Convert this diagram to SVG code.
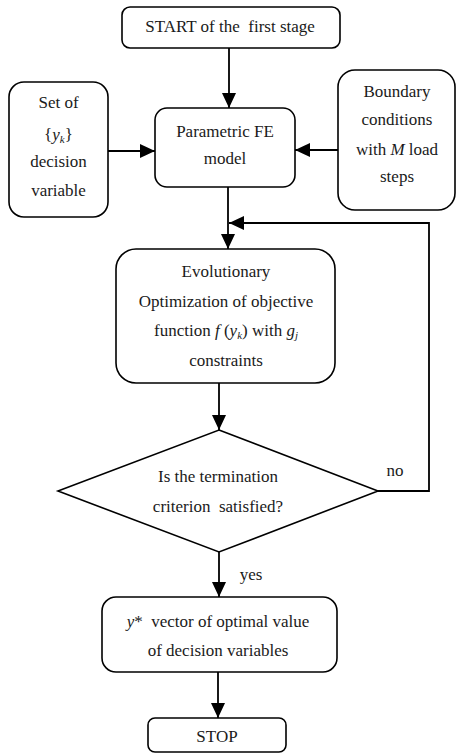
<svg xmlns="http://www.w3.org/2000/svg" width="456" height="754" viewBox="0 0 456 754">
<style>
.box{fill:#fff;stroke:#000;stroke-width:1.6}
.t{font-family:'Liberation Serif','DejaVu Serif Condensed','DejaVu Serif',serif;font-size:17px;fill:#1a1a1a;text-anchor:middle}
.i{font-style:italic}
.sub{font-size:11px;font-style:italic}
.c{fill:none;stroke:#000;stroke-width:1.8}
</style>
<defs>
<marker id="ah" markerUnits="userSpaceOnUse" markerWidth="16" markerHeight="14" refX="15" refY="7" orient="auto">
<path d="M0,0 L15,7 L0,14 z" fill="#000"/>
</marker>
</defs>
<rect width="456" height="754" fill="#fff"/>
<g id="connectors">
<path class="c" d="M229,48 V108" marker-end="url(#ah)"/>
<path class="c" d="M108,151 H155" marker-end="url(#ah)"/>
<path class="c" d="M338,150 H295" marker-end="url(#ah)"/>
<path class="c" d="M228,187 V249" marker-end="url(#ah)"/>
<path class="c" d="M378,491 H429 V223 H229" marker-end="url(#ah)"/>
<path class="c" d="M219,383 V430" marker-end="url(#ah)"/>
<path class="c" d="M219,552 V597" marker-end="url(#ah)"/>
<path class="c" d="M218,672 V718" marker-end="url(#ah)"/>
<text class="t" x="395" y="476">no</text>
<text class="t" x="251" y="580">yes</text>
</g>
<g id="start">
<rect class="box" x="122" y="7" width="218" height="41" rx="8"/>
<text class="t" x="230" y="32" xml:space="preserve">START of the  first stage</text>
</g>
<g id="setvars">
<rect class="box" x="9" y="82" width="99" height="135" rx="15"/>
<text class="t" x="58.5" y="108">Set of</text>
<text class="t" x="58.5" y="140">{<tspan class="i">y</tspan><tspan class="sub" dy="3">k</tspan><tspan dy="-3">}</tspan></text>
<text class="t" x="58.5" y="167">decision</text>
<text class="t" x="58.5" y="196">variable</text>
</g>
<g id="fe">
<rect class="box" x="155" y="108" width="140" height="79" rx="12"/>
<text class="t" x="225" y="137">Parametric FE</text>
<text class="t" x="225" y="164">model</text>
</g>
<g id="boundary">
<rect class="box" x="338" y="70" width="117" height="140" rx="17"/>
<text class="t" x="397" y="97">Boundary</text>
<text class="t" x="397" y="125">conditions</text>
<text class="t" x="397" y="155">with <tspan class="i">M</tspan> load</text>
<text class="t" x="397" y="182">steps</text>
</g>
<g id="evo">
<rect class="box" x="116" y="249" width="219" height="134" rx="20"/>
<text class="t" x="226" y="277">Evolutionary</text>
<text class="t" x="226" y="307">Optimization of objective</text>
<text class="t" x="226" y="336">function <tspan class="i">f</tspan> (<tspan class="i">y</tspan><tspan class="sub" dy="3">k</tspan><tspan dy="-3">) with </tspan><tspan class="i">g</tspan><tspan class="sub" dy="3">j</tspan></text>
<text class="t" x="226" y="366">constraints</text>
</g>
<g id="decision">
<polygon class="box" points="219,430 378,491 219,552 58,491"/>
<text class="t" x="218" y="482">Is the termination</text>
<text class="t" x="218" y="512" xml:space="preserve">criterion  satisfied?</text>
</g>
<g id="result">
<rect class="box" x="102" y="597" width="235" height="75" rx="14"/>
<text class="t" x="218" y="627" xml:space="preserve"><tspan class="i">y</tspan>*  vector of optimal value</text>
<text class="t" x="218" y="656">of decision variables</text>
</g>
<g id="stop">
<rect class="box" x="148" y="718" width="138" height="34" rx="7"/>
<text class="t" x="217" y="742">STOP</text>
</g>
</svg>
